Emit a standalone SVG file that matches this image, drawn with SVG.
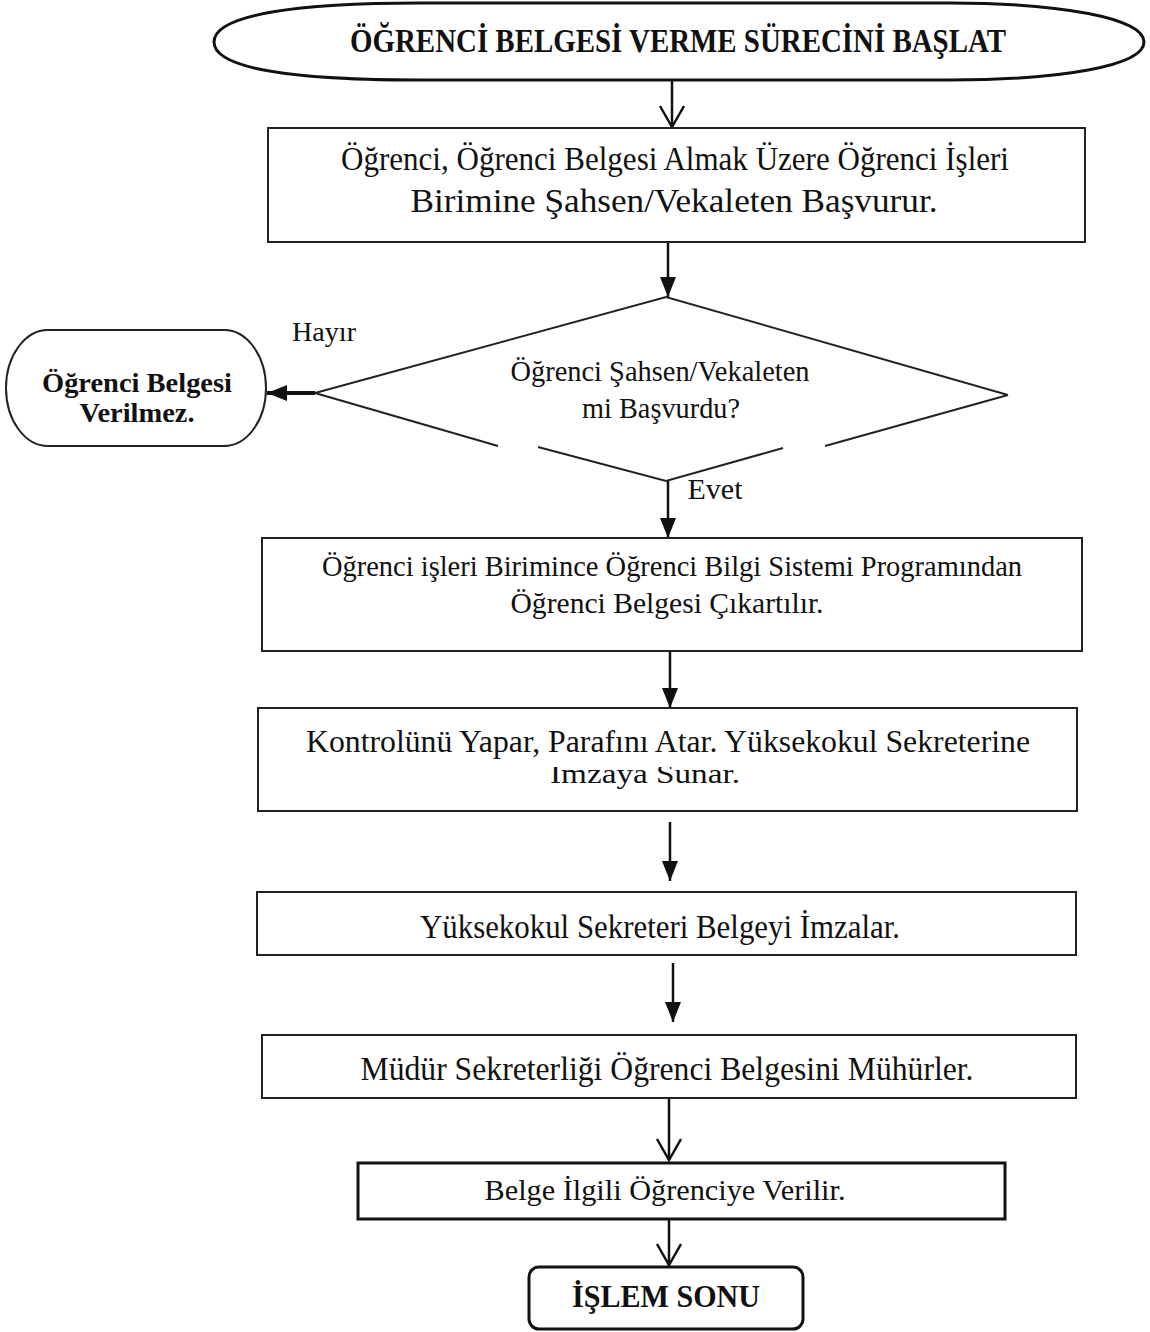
<svg xmlns="http://www.w3.org/2000/svg" width="1150" height="1332" viewBox="0 0 1150 1332">
<style>
.t{font-family:"Liberation Serif","Times New Roman",serif;fill:#111;text-anchor:middle}
.b{font-weight:bold}
.box{fill:#fff;stroke:#222;stroke-width:2}
.thick{fill:#fff;stroke:#111;stroke-width:3}
.c{stroke:#111;stroke-width:2.5;fill:none}
</style>
<defs>
<marker id="fa" markerUnits="userSpaceOnUse" markerWidth="20" markerHeight="16" refX="20" refY="8" orient="auto">
<path d="M0,0 L20,8 L0,16 z" fill="#111"/>
</marker>
<marker id="oa" markerUnits="userSpaceOnUse" markerWidth="24" markerHeight="28" refX="22" refY="13" orient="auto">
<path d="M1,1 L22,13 L1,25" fill="none" stroke="#111" stroke-width="2.5"/>
</marker>
<clipPath id="clip3"><rect x="258" y="767" width="820" height="42"/></clipPath>
</defs>

<g id="connectors">
<line class="c" x1="672" y1="80" x2="672" y2="127" marker-end="url(#oa)"/>
<line class="c" x1="668" y1="242" x2="668" y2="297" marker-end="url(#fa)"/>
<line x1="315" y1="393" x2="267" y2="393" stroke="#111" stroke-width="4" marker-end="url(#fa)"/>
<line class="c" x1="668" y1="481" x2="668" y2="538" stroke-width="3" marker-end="url(#fa)"/>
<line class="c" x1="670" y1="651" x2="670" y2="708" marker-end="url(#fa)"/>
<line class="c" x1="670" y1="822" x2="670" y2="881" marker-end="url(#fa)"/>
<line class="c" x1="673" y1="963" x2="673" y2="1022" marker-end="url(#fa)"/>
<line class="c" x1="669" y1="1097" x2="669" y2="1160" marker-end="url(#oa)"/>
<line class="c" x1="669" y1="1219" x2="669" y2="1265" marker-end="url(#oa)"/>
<text class="t" x="324" y="341" font-size="27" textLength="64" lengthAdjust="spacingAndGlyphs">Hayır</text>
<text class="t" x="715" y="499" font-size="30" textLength="55" lengthAdjust="spacingAndGlyphs">Evet</text>
</g>

<g id="start">
<path d="M214,42 C214,14 300,3 420,3 L950,3 C1060,3 1144,18 1144,42 C1144,66 1060,80 950,80 L420,80 C300,80 214,70 214,42 Z" fill="#fff" stroke="#111" stroke-width="3"/>
<text class="t b" x="678" y="52" font-size="34" textLength="656" lengthAdjust="spacingAndGlyphs">ÖĞRENCİ BELGESİ VERME  SÜRECİNİ BAŞLAT</text>
</g>

<g id="box1">
<rect class="box" x="268" y="128" width="817" height="114"/>
<text class="t" x="675" y="170" font-size="33" textLength="668" lengthAdjust="spacingAndGlyphs">Öğrenci, Öğrenci Belgesi Almak Üzere Öğrenci İşleri</text>
<text class="t" x="674" y="212" font-size="33" textLength="527" lengthAdjust="spacingAndGlyphs">Birimine Şahsen/Vekaleten Başvurur.</text>
</g>

<g id="decision">
<path d="M315,393 L666,297 L1008,395" fill="none" stroke="#222" stroke-width="2"/>
<path d="M315,393 L498,446" fill="none" stroke="#222" stroke-width="2"/>
<path d="M1008,395 L825,446" fill="none" stroke="#222" stroke-width="2"/>
<path d="M538,447 L666,481 L783,448" fill="none" stroke="#222" stroke-width="2"/>
<text class="t" x="660" y="381" font-size="29" textLength="299" lengthAdjust="spacingAndGlyphs">Öğrenci Şahsen/Vekaleten</text>
<text class="t" x="661" y="418" font-size="29" textLength="158" lengthAdjust="spacingAndGlyphs">mi Başvurdu?</text>
</g>

<g id="reject">
<rect x="6" y="330" width="260" height="116" rx="42" ry="58" fill="#fff" stroke="#222" stroke-width="2"/>
<text class="t b" x="137" y="392" font-size="28" textLength="190" lengthAdjust="spacingAndGlyphs">Öğrenci Belgesi</text>
<text class="t b" x="137" y="422" font-size="28" textLength="115" lengthAdjust="spacingAndGlyphs">Verilmez.</text>
</g>

<g id="box2">
<rect class="box" x="262" y="538" width="820" height="113"/>
<text class="t" x="672" y="576" font-size="30" textLength="700" lengthAdjust="spacingAndGlyphs">Öğrenci işleri Birimince Öğrenci Bilgi Sistemi Programından</text>
<text class="t" x="667" y="613" font-size="30" textLength="313" lengthAdjust="spacingAndGlyphs">Öğrenci Belgesi Çıkartılır.</text>
</g>

<g id="box3">
<rect class="box" x="258" y="708" width="819" height="103"/>
<text class="t" x="668" y="752" font-size="32" textLength="724" lengthAdjust="spacingAndGlyphs">Kontrolünü Yapar, Parafını Atar. Yüksekokul Sekreterine</text>
<text class="t" x="645" y="783" font-size="27" textLength="190" lengthAdjust="spacingAndGlyphs" clip-path="url(#clip3)">İmzaya Sunar.</text>
</g>

<g id="box4">
<rect class="box" x="257" y="892" width="819" height="63"/>
<text class="t" x="660" y="938" font-size="33" textLength="480" lengthAdjust="spacingAndGlyphs">Yüksekokul Sekreteri Belgeyi İmzalar.</text>
</g>

<g id="box5">
<rect class="box" x="262" y="1035" width="814" height="63"/>
<text class="t" x="667" y="1080" font-size="33" textLength="613" lengthAdjust="spacingAndGlyphs">Müdür Sekreterliği Öğrenci Belgesini Mühürler.</text>
</g>

<g id="box6">
<rect class="thick" x="358" y="1163" width="647" height="56"/>
<text class="t" x="665" y="1200" font-size="29" textLength="361" lengthAdjust="spacingAndGlyphs">Belge İlgili Öğrenciye Verilir.</text>
</g>

<g id="end">
<rect class="thick" x="529" y="1267" width="274" height="62" rx="10" ry="10"/>
<text class="t b" x="666" y="1307" font-size="32" textLength="188" lengthAdjust="spacingAndGlyphs">İŞLEM SONU</text>
</g>
</svg>
